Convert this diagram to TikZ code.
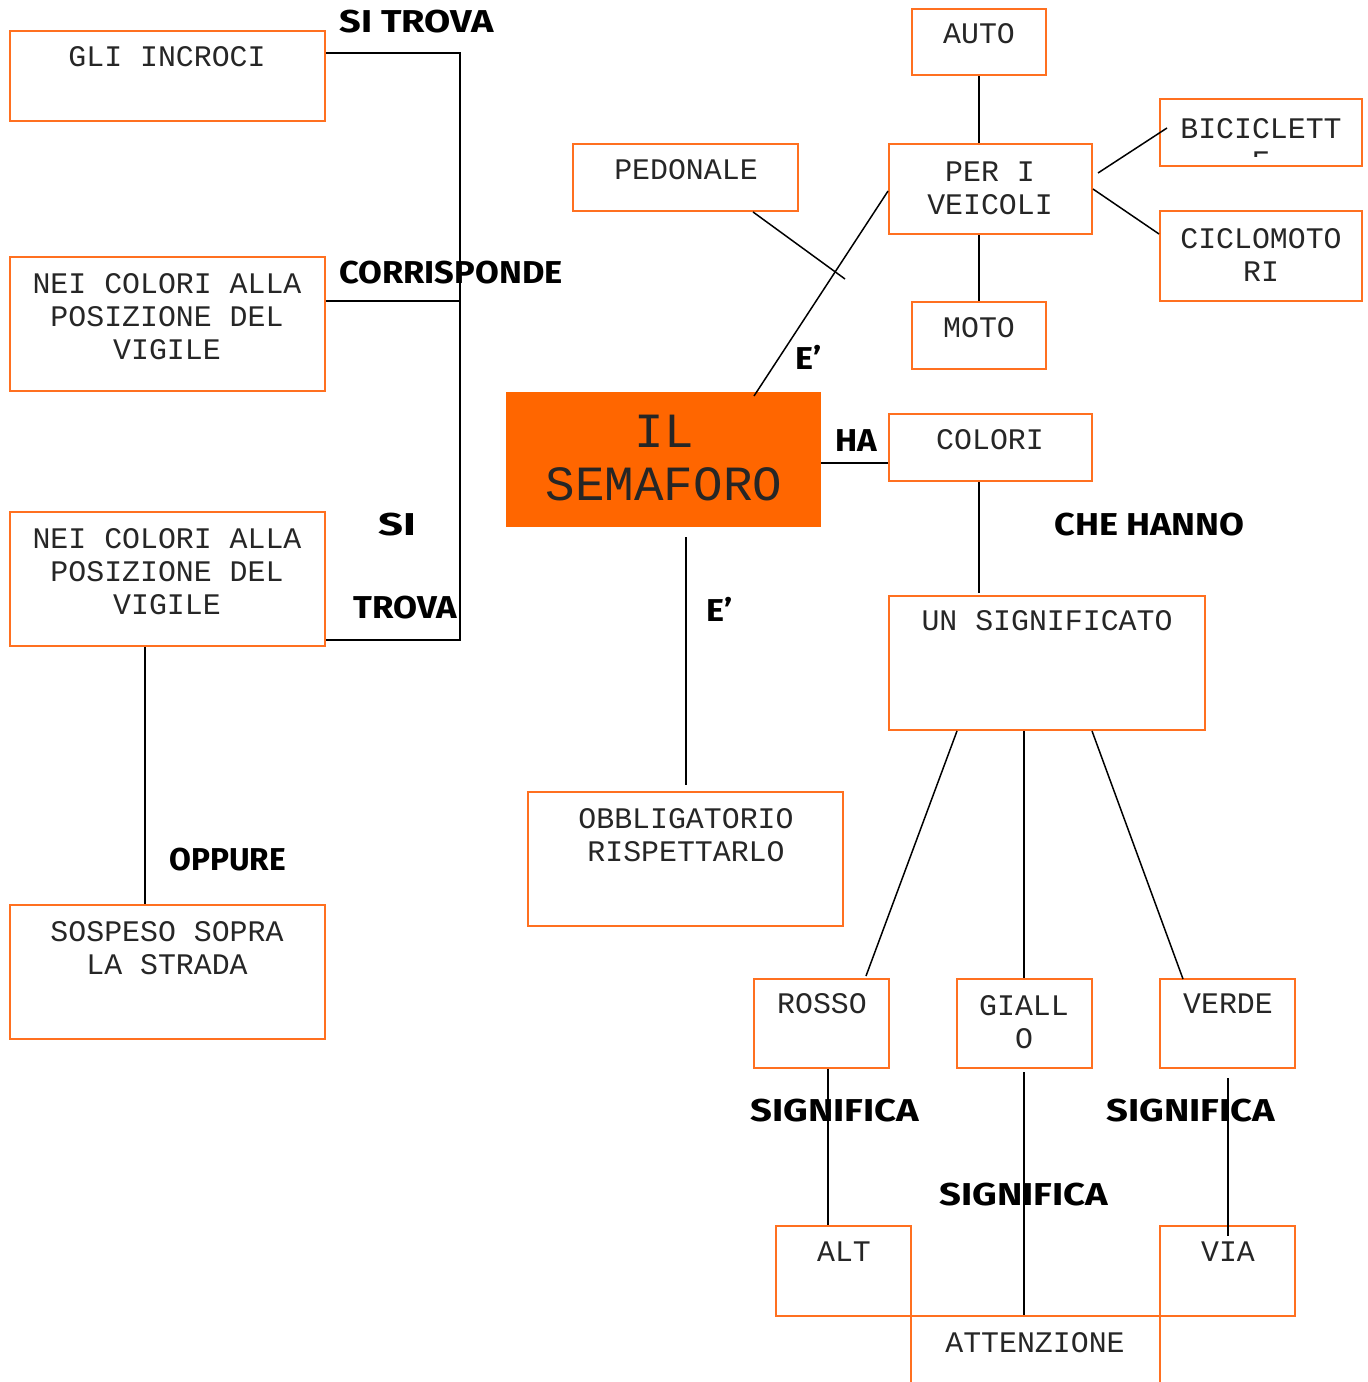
\documentclass[tikz,border=0pt]{standalone}
\usepackage{fontspec}
\usepackage{graphicx}
\setmainfont{Liberation Mono}
\newfontfamily\labfont{Fira Sans}
\usetikzlibrary{fit}
\definecolor{orng}{HTML}{FF6600}
\definecolor{boxline}{HTML}{FF7020}
\newcommand\lblsc[2]{\scalebox{#1}[1]{#2}}
\begin{document}
\begin{tikzpicture}[x=0.02cm,y=-0.02cm,
  box/.style={draw=boxline, line width=1.1pt, inner sep=0pt, rectangle},
  txt/.style={font=\fontsize{17}{18.7}\selectfont, align=center, inner sep=0pt, text=black!85},
  bigtxt/.style={font=\fontsize{28}{30.6}\selectfont, align=center, inner sep=0pt, text=black!85},
  lab/.style={font=\labfont\bfseries\fontsize{18}{20}\selectfont, inner sep=0pt, anchor=west},
  conn/.style={draw=black, line width=0.85pt}]
\useasboundingbox (0,0) rectangle (1368,1382);
\fill[white] (0,0) rectangle (1368,1382);

% boxes
\node[box, fit={(10,31) (325,121)}] (gli) {};
\node[txt] at (167,57) {GLI INCROCI};
\node[box, fit={(10,257) (325,391)}] (nei1) {};
\node[txt] at (167,317) {NEI COLORI ALLA\\POSIZIONE DEL\\VIGILE};
\node[box, fit={(10,512) (325,646)}] (nei2) {};
\node[txt] at (167,572) {NEI COLORI ALLA\\POSIZIONE DEL\\VIGILE};
\node[box, fit={(10,905) (325,1039)}] (sosp) {};
\node[txt] at (167,948) {SOSPESO SOPRA\\LA STRADA};

\node[box, fit={(573,144) (798,211)}] (ped) {};
\node[txt] at (686,170) {PEDONALE};
\node[box, fit={(912,9) (1046,75)}] (auto) {};
\node[txt] at (979,34) {AUTO};
\node[box, fit={(889,144) (1092,234)}] (veic) {};
\node[txt] at (990,188) {PER I\\VEICOLI};
\node[box, fit={(912,302) (1046,369)}] (moto) {};
\node[txt] at (979,328) {MOTO};
\node[box, fit={(1160,99) (1362,166)}] (bici) {};
\begin{scope}
  \clip (1160,99) rectangle (1362,157);
  \node[txt, anchor=north] at (1261,118) {BICICLETT\\E};
\end{scope}
\node[box, fit={(1160,211) (1362,301)}] (ciclo) {};
\node[txt] at (1261,255) {CICLOMOTO\\RI};

\node[fill=orng, inner sep=0pt, fit={(506,392) (821,527)}] (sem) {};
\node[bigtxt] at (664,458) {IL\\SEMAFORO};

\node[box, fit={(889,414) (1092,481)}] (col) {};
\node[txt] at (990,440) {COLORI};
\node[box, fit={(889,596) (1205,730)}] (sig) {};
\node[txt] at (1047,621) {UN SIGNIFICATO};
\node[box, fit={(528,792) (843,926)}] (obb) {};
\node[txt] at (686,835) {OBBLIGATORIO\\RISPETTARLO};

\node[box, fit={(754,979) (889,1068)}] (rosso) {};
\node[txt] at (822,1004) {ROSSO};
\node[box, fit={(957,979) (1092,1068)}] (giallo) {};
\node[txt] at (1024,1022) {GIALL\\O};
\node[box, fit={(1160,979) (1295,1068)}] (verde) {};
\node[txt] at (1228,1004) {VERDE};
\node[box, fit={(776,1226) (911,1316)}] (alt) {};
\node[txt] at (844,1252) {ALT};
\node[box, fit={(1160,1226) (1295,1316)}] (via) {};
\node[txt] at (1228,1252) {VIA};
\begin{scope}
  \clip (0,0) rectangle (1368,1382);
  \node[box, fit={(911,1316) (1160,1430)}] (attn) {};
\end{scope}
\node[txt] at (1035,1343) {ATTENZIONE};

% connectors
\draw[conn] (gli.east |- 0,53) -- (460,53) -- (460,640) -- (nei2.east |- 0,640);
\coordinate (bus) at (460,301);
\draw[conn] (nei1.east |- bus) -- (bus);
\draw[conn] (nei2.south -| 145,0) -- (sosp.north -| 145,0);
\coordinate (pedend) at (845,279);
\draw[conn] (ped.south -| 753,0) -- (pedend);
\coordinate (semtop) at (754,396);
\draw[conn] (semtop) -- (veic.west |- 0,191);
\draw[conn] (auto.south -| 979,0) -- (veic.north -| 979,0);
\draw[conn] (veic.south -| 979,0) -- (moto.north -| 979,0);
\coordinate (b1) at (1098,173);
\coordinate (b2) at (1167,128);
\draw[conn] (b1) -- (b2);
\draw[conn] (veic.east |- 0,189) -- (ciclo.west |- 0,234);
\draw[conn] (sem.east |- 0,463) -- (col.west |- 0,463);
\coordinate (sigtop) at (979,593);
\draw[conn] (col.south -| 979,0) -- (sigtop);
\coordinate (e1) at (686,537);
\coordinate (e2) at (686,785);
\draw[conn] (e1) -- (e2);
\coordinate (rtop) at (866,976);
\draw[conn] (sig.south -| 957,0) -- (rtop);
\draw[conn] (sig.south -| 1024,0) -- (giallo.north -| 1024,0);
\coordinate (vtop) at (1183,979);
\draw[conn] (sig.south -| 1092,0) -- (vtop);
\draw[conn] (rosso.south -| 828,0) -- (alt.north -| 828,0);
\coordinate (g1) at (1024,1072);
\draw[conn] (g1) -- (attn.north -| 1024,0);
\coordinate (v1) at (1228,1078);
\coordinate (v2) at (1228,1236);
\draw[conn] (v1) -- (v2);

% labels
\node[lab] (l1) at (339,22) {\lblsc{1.20}{SI TROVA}};
\node[lab] (l2) at (339,273) {\lblsc{1.09}{CORRISPONDE}};
\node[lab] (l3) at (795,357) {\lblsc{1.08}{E’}};
\node[lab] (l4) at (835,441) {\lblsc{1.05}{HA}};
\node[lab] (l5) at (378,525) {\lblsc{1.38}{SI}};
\node[lab] (l6) at (353,608) {\lblsc{1.10}{TROVA}};
\node[lab] (l7) at (706,609) {\lblsc{1.08}{E’}};
\node[lab] (l8) at (1054,525) {\lblsc{1.14}{CHE HANNO}};
\node[lab] (l9) at (169,860) {OPPURE};
\node[lab] (l10) at (750,1111) {\lblsc{1.21}{SIGNIFICA}};
\node[lab] (l11) at (1106,1111) {\lblsc{1.21}{SIGNIFICA}};
\node[lab] (l12) at (939,1195) {\lblsc{1.21}{SIGNIFICA}};
\end{tikzpicture}
\end{document}
